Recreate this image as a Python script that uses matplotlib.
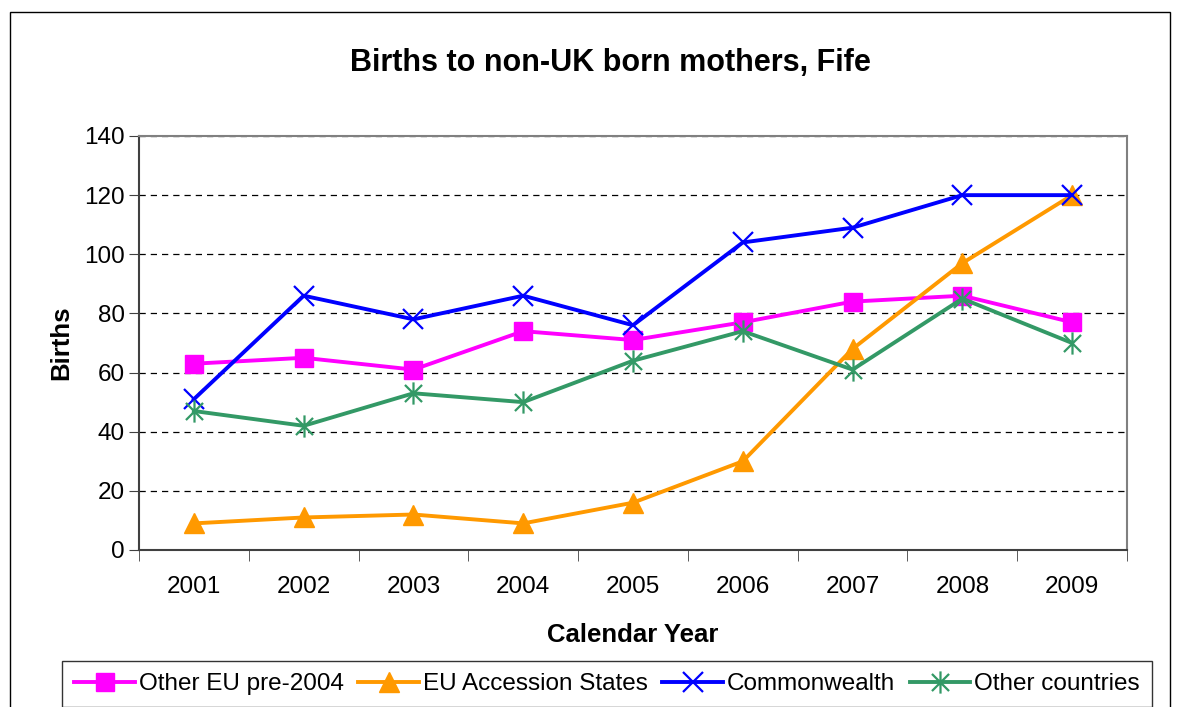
import numpy as np
import matplotlib
matplotlib.use('Agg')
import matplotlib.pyplot as plt
from matplotlib.path import Path
from matplotlib.patches import Rectangle

years = ['2001', '2002', '2003', '2004', '2005', '2006', '2007', '2008', '2009']
other_eu = [63, 65, 61, 74, 71, 77, 84, 86, 77]
accession = [9, 11, 12, 9, 16, 30, 68, 97, 120]
commonwealth = [51, 86, 78, 86, 76, 104, 109, 120, 120]
other_countries = [47, 42, 53, 50, 64, 74, 61, 85, 70]

plt.rcParams['font.family'] = ['Liberation Sans', 'DejaVu Sans']

# excel style asterisk marker
star = Path([(-1, -1), (1, 1), (-1, 1), (1, -1), (0, -1.3), (0, 1.3)],
            [Path.MOVETO, Path.LINETO, Path.MOVETO, Path.LINETO, Path.MOVETO, Path.LINETO])

fig = plt.figure(figsize=(11.78, 7.07), dpi=100)
fig.patches.append(Rectangle((10 / 1178, -0.01), 1160 / 1178, 1 - 12 / 707 + 0.01,
                             transform=fig.transFigure, fill=False, edgecolor='black', lw=1))
ax = fig.add_axes([139 / 1178, 1 - 550 / 707, (1127 - 139) / 1178, (550 - 136) / 707])

x = np.arange(len(years))
ax.plot(x, other_eu, color='#FF00FF', lw=2.8, marker='s', ms=13, label='Other EU pre-2004')
ax.plot(x, accession, color='#FF9900', lw=2.8, marker='^', ms=15, label='EU Accession States')
ax.plot(x, commonwealth, color='#0000FF', lw=2.8, marker='x', ms=14, mew=1.6, label='Commonwealth')
ax.plot(x, other_countries, color='#339966', lw=2.8, marker=star, ms=16, mew=1.6,
        mfc='none', mec='#339966', label='Other countries')

ax.set_xlim(-0.5, len(years) - 0.5)
ax.set_ylim(0, 140)
ax.set_yticks(range(0, 141, 20))
ax.set_xticks(x)
ax.set_xticklabels(years)
ax.set_xticks(np.arange(-0.5, len(years), 1), minor=True)
ax.tick_params(axis='x', which='major', length=0, labelsize=17.5, pad=19)
ax.tick_params(axis='x', which='minor', length=8, color='#404040', direction='out')
ax.tick_params(axis='y', length=7, color='#404040', labelsize=17.5, pad=3)
ax.grid(axis='y', color='black', ls=(0, (5, 4)), lw=0.9)
ax.set_axisbelow(True)

for s in ['left', 'bottom']:
    ax.spines[s].set_color('#404040')
    ax.spines[s].set_linewidth(1.5)
for s in ['top', 'right']:
    ax.spines[s].set_color('#808080')
    ax.spines[s].set_linewidth(1.5)

ax.set_xlabel('Calendar Year', fontsize=18.5, fontweight='bold', labelpad=18)
ax.set_ylabel('Births', fontsize=18.5, fontweight='bold', labelpad=8)
fig.text(0.518, 1 - 63 / 707, 'Births to non-UK born mothers, Fife', ha='center', va='center',
         fontsize=22, fontweight='bold')

leg = fig.legend(loc='center', bbox_to_anchor=(607 / 1178, 1 - 684 / 707), ncol=4,
                 fontsize=17.5, frameon=True, fancybox=False, edgecolor='black',
                 handlelength=2.5, handletextpad=0.15, columnspacing=0.6, borderpad=0.5)
leg.get_frame().set_linewidth(1)

plt.savefig('out.png', dpi=100)
